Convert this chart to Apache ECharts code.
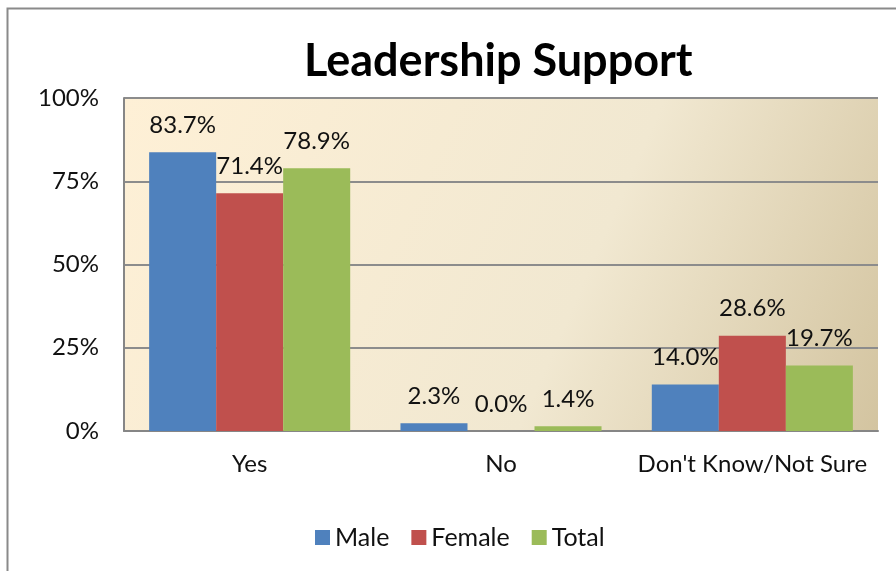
<!DOCTYPE html>
<html>
<head>
<meta charset="utf-8">
<script src="https://cdn.jsdelivr.net/npm/echarts@6/dist/echarts.min.js"></script>
<style>
  html, body { margin: 0; padding: 0; background: #fff; }
  #chart { width: 896px; height: 571px; }
</style>
</head>
<body>
<div id="chart"></div>
<script>
const categories = ['Yes', 'No', "Don't Know/Not Sure"];
const maleValues = [83.7, 2.3, 14.0];
const femaleValues = [71.4, 0.0, 28.6];
const totalValues = [78.9, 1.4, 19.7];
const seriesNames = ['Male', 'Female', 'Total'];
const yTicks = [0, 25, 50, 75, 100];

const FONT = 'Lato';
const colors = ['#4F81BD', '#C0504D', '#9BBB59'];

const chart = echarts.init(document.getElementById('chart'));

function barSeries(name, data, color) {
  return {
    name: name,
    type: 'bar',
    data: data,
    barGap: '0%',
    barCategoryGap: '20%',
    itemStyle: { color: color },
    label: {
      show: true,
      position: 'top',
      distance: 15,
      fontFamily: FONT,
      fontSize: 24,
      color: '#111',
      formatter: p => p.value.toFixed(1) + '%'
    }
  };
}

chart.setOption({
  animation: false,
  title: {
    text: 'Leadership Support',
    left: 299,
    top: 34,
    textStyle: { fontFamily: FONT, fontWeight: 'bold', fontSize: 45, color: '#000' }
  },
  graphic: [{
    type: 'rect',
    shape: { x: 7.5, y: 8.5, width: 1000, height: 1000 },
    style: { fill: 'none', stroke: '#8a8a8a', lineWidth: 2 },
    silent: true
  }],
  legend: {
    data: seriesNames,
    bottom: 16,
    left: 310,
    icon: 'rect',
    itemWidth: 15,
    itemHeight: 15,
    itemGap: 22,
    textStyle: { fontFamily: FONT, fontSize: 25, color: '#111' }
  },
  grid: {
    left: 124,
    right: 18,
    top: 98,
    bottom: 140,
    show: true,
    borderWidth: 0,
    backgroundColor: new echarts.graphic.LinearGradient(0, 0, 1, 1, [
      { offset: 0, color: '#FEF0D6' },
      { offset: 0.6, color: '#F1E8D1' },
      { offset: 1, color: '#D3C4A0' }
    ])
  },
  xAxis: {
    type: 'category',
    data: categories,
    axisLine: { lineStyle: { color: '#868686', width: 2 } },
    axisTick: { show: false },
    axisLabel: { interval: 0, fontFamily: FONT, fontSize: 24, color: '#111', margin: 21 }
  },
  yAxis: {
    type: 'value',
    min: yTicks[0],
    max: yTicks[yTicks.length - 1],
    interval: 25,
    axisLine: { show: true, lineStyle: { color: '#868686', width: 2 } },
    axisTick: { show: false },
    splitLine: { lineStyle: { color: '#8C8C8C', width: 2 } },
    axisLabel: { fontFamily: FONT, fontSize: 24, color: '#111', margin: 25, formatter: '{value}%' }
  },
  series: [
    barSeries(seriesNames[0], maleValues, colors[0]),
    barSeries(seriesNames[1], femaleValues, colors[1]),
    barSeries(seriesNames[2], totalValues, colors[2])
  ]
});
</script>
</body>
</html>
